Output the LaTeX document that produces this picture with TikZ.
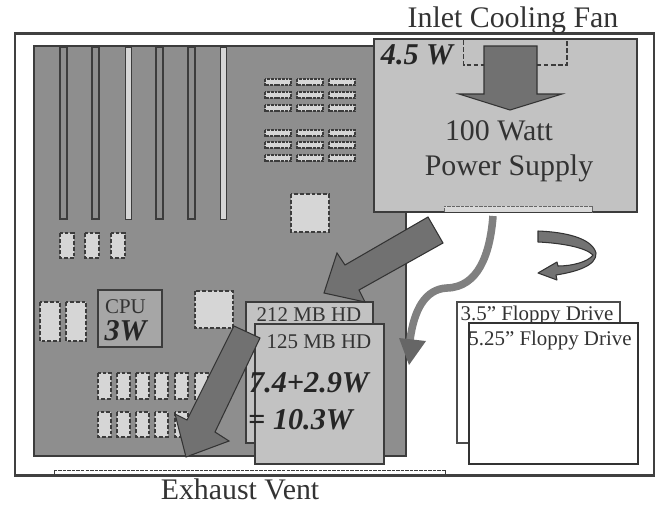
\documentclass[tikz,border=0pt]{standalone}
\usepackage{fontspec}
\setmainfont{Liberation Serif}
\definecolor{boardgray}{HTML}{8E8E8E}
\definecolor{chipgray}{HTML}{D6D6D6}
\definecolor{boxgray}{HTML}{C2C2C2}
\definecolor{arrowgray}{HTML}{717171}
\definecolor{linegray}{HTML}{3C3C3C}
\tikzset{
  chip/.style={draw=linegray, dash pattern=on 2.2pt off 1.1pt, line width=0.7pt, fill=chipgray},
  ramchip/.style={draw=linegray, dash pattern=on 1.6pt off 0.5pt, line width=0.6pt, fill=chipgray},
  slotdark/.style={draw=linegray, line width=0.8pt, fill=boardgray},
  slotlight/.style={draw=linegray, line width=0.5pt, fill=chipgray},
  panel/.style={draw=linegray, line width=0.8pt, fill=boxgray},
  flowarrow/.style={draw=black!80, line width=0.6pt, fill=arrowgray},
  bigtext/.style={inner sep=0pt, text=black!80, font=\fontsize{17}{20}\selectfont},
  smalltext/.style={inner sep=0pt, text=black!80, font=\fontsize{11.9}{14}\selectfont},
  powertext/.style={inner sep=0pt, text=black!85, font=\fontsize{17.2}{20}\selectfont\bfseries\itshape}
}
\begin{document}
\begin{tikzpicture}[x=0.02cm,y=-0.02cm]
  \useasboundingbox (0,0) rectangle (655,504);
  % case
  \draw[draw=black!75, line width=1.2pt] (15,33.5) -- (654.5,33.5) -- (654.5,475.5) -- (15,475.5) -- cycle;
  \draw[draw=linegray, dashed, line width=0.5pt, dash pattern=on 2pt off 0.6pt] (54,475) -- (54,470) -- (445,470) -- (445,475);
  % motherboard
  \draw[slotdark] (34,46) rectangle (406,456);
  \foreach \x in {60,92,156,188}
    \draw[slotdark] (\x,47) rectangle (\x+7,219);
  \foreach \x in {125,220}
    \draw[slotlight] (\x,47) rectangle (\x+6,219);
  % memory chips
  \foreach \x in {265,297,329}
    \foreach \y in {79,92,105,130,142,155}
      \draw[ramchip] (\x,\y) rectangle (\x+26,\y+6);
  \draw[chip] (291,194) rectangle (329,232);
  \draw[chip] (195,291) rectangle (233,328);
  \foreach \x in {60,85,111}
    \draw[chip] (\x,233) rectangle (\x+14,258);
  \foreach \x in {40,66}
    \draw[chip] (\x,302) rectangle (\x+20,341);
  \foreach \x in {98,117,136,155,175,195} {
    \draw[chip] (\x,373) rectangle (\x+13,399);
    \draw[chip] (\x,412) rectangle (\x+13,437);
  }
  % cpu
  \draw[draw=linegray, line width=0.9pt, fill=black!35] (98,290) rectangle (162,347);
  \node[smalltext] (cpulabel) at (125.5,307) {CPU};
  \node[powertext] (cpupower) at (125.5,331) {3W};
  % hard drives
  \draw[panel] (246,302) rectangle (373,443);
  \node[smalltext] (hdonelabel) at (309,315) {212 MB HD};
  % power supply
  \draw[panel] (374,39) rectangle (637,212);
  \draw[draw=black!60, line width=0.5pt, dash pattern=on 2pt off 0.6pt, fill=black!15] (444,212) -- (444,206) -- (592,206) -- (592,212);
  \draw[draw=linegray, dash pattern=on 2.6pt off 1.4pt, line width=0.6pt] (463.5,40) -- (463.5,65) -- (567,65) -- (567,40);
  \draw[flowarrow] (484,46) -- (537,46) -- (537,94) -- (562,94) -- (510,110) -- (459,94) -- (484,94) -- cycle;
  \node[powertext] (fanpower) at (417,55) {4.5 W};
  \node[bigtext] (supplyone) at (499,131) {100 Watt};
  \node[bigtext] (supplytwo) at (509,168) {Power Supply};
  % flow to drives
  \draw[flowarrow] (428,217) -- (443,243) -- (359,290) -- (365,302) -- (324,293) -- (337,253) -- (345,265) -- cycle;
  \draw[panel] (255,324) rectangle (384,464);
  \node[smalltext] (hdtwolabel) at (319,342) {125 MB HD};
  \node[powertext] (hdsum) at (309,383) {7.4+2.9W};
  \node[powertext] (hdtotal) at (300.5,420) {= 10.3W};
  % exhaust flow
  \draw[flowarrow] (234,326) -- (260,338) -- (215,432) -- (229,441) -- (186,457) -- (175,414) -- (187,420) -- cycle;
  % flow past the floppies
  \draw[draw=black!50, line width=4.3pt] (493,216) .. controls (490,255) and (478,287) .. (447,288) .. controls (425,289) and (414,310) .. (410,340);
  \fill[black!60] (399,338) -- (426,341) -- (409,365) -- cycle;
  \draw[flowarrow, fill=black!55, line join=round] (538,231) .. controls (565,232) and (592,238) .. (596,253) .. controls (597,266) and (575,272) .. (556,275) -- (557,280) -- (538,273) -- (557,262) -- (558,266) .. controls (572,266) and (588,262) .. (593,255) .. controls (585,247) and (560,243) .. (538,242) -- cycle;
  % floppy drives
  \draw[draw=black!70, line width=0.7pt, fill=white] (457,302) rectangle (620,443);
  \node[smalltext] (floppyone) at (537,315) {3.5” Floppy Drive};
  \draw[draw=black!80, line width=0.8pt, fill=white] (469,323) rectangle (638,464);
  \node[smalltext] (floppytwo) at (550,340) {5.25” Floppy Drive};
  % case labels
  \node[bigtext] (inletlabel) at (513,20) {Inlet Cooling Fan};
  \node[bigtext] (exhaustlabel) at (240,489) {Exhaust Vent};
\end{tikzpicture}
\end{document}
